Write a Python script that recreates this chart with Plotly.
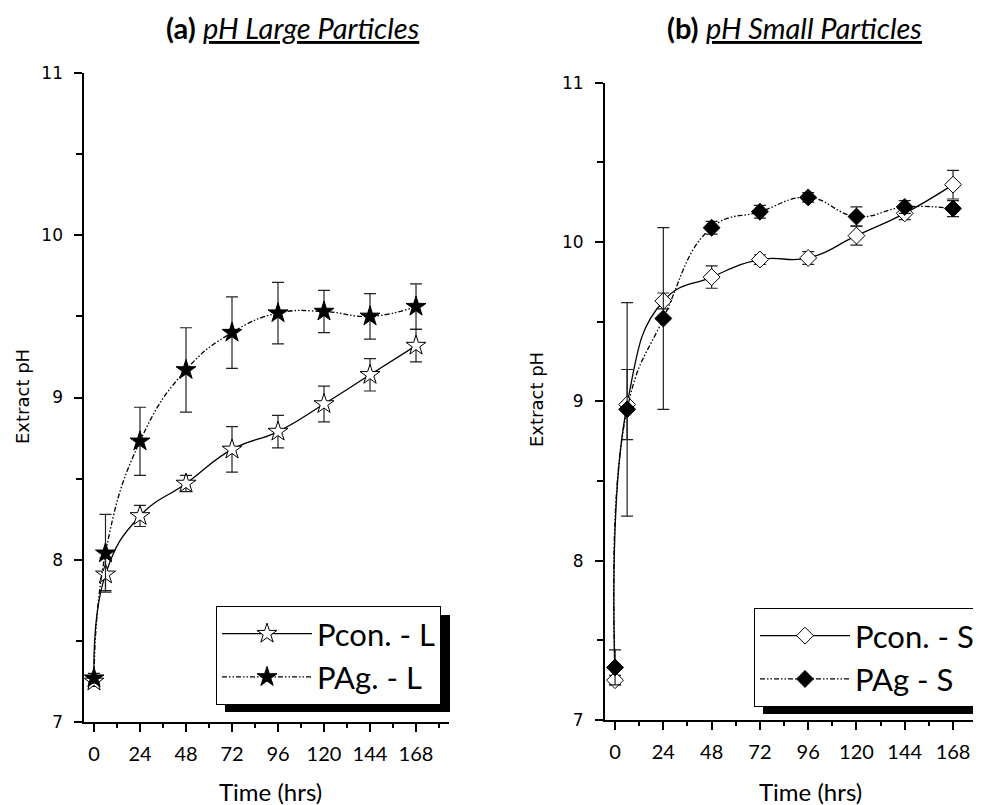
import plotly.graph_objects as go

# ---------------- data ----------------
hours = [0, 6, 24, 48, 72, 96, 120, 144, 168]

pcon_L = [7.25, 7.91, 8.27, 8.47, 8.68, 8.79, 8.96, 9.14, 9.32]
pcon_L_err = [0.03, 0.10, 0.065, 0.05, 0.14, 0.10, 0.11, 0.10, 0.10]
pag_L = [7.27, 8.04, 8.73, 9.17, 9.40, 9.52, 9.53, 9.50, 9.56]
pag_L_err = [0.03, 0.24, 0.21, 0.26, 0.22, 0.19, 0.13, 0.14, 0.14]

pcon_S = [7.25, 8.98, 9.63, 9.78, 9.89, 9.90, 10.04, 10.18, 10.36]
pcon_S_err = [0.03, 0.22, 0.05, 0.07, 0.03, 0.04, 0.06, 0.04, 0.09]
pag_S = [7.33, 8.95, 9.52, 10.09, 10.19, 10.28, 10.16, 10.22, 10.21]
pag_S_err = [0.11, 0.67, 0.57, 0.04, 0.04, 0.03, 0.06, 0.04, 0.05]

x_ticks = [0, 24, 48, 72, 96, 120, 144, 168]
y_ticks = [7, 8, 9, 10, 11]

names = ["Pcon. - L", "PAg. - L", "Pcon. - S", "PAg - S"]

# page body has an 8px margin; the figure is sized to fill the rest
OFF = 8
W, H = 981 - OFF, 805 - OFF
def px(x):
    return (x - OFF) / W
def py(y):
    return 1 - (y - OFF) / H

DASH = "5px,2px,1.5px,2px,1.5px,2px"
SANS = "Lato, 'Open Sans', sans-serif"
DEJ = "'DejaVu Sans', sans-serif"

fig = go.Figure()

def add(xref, yref, y, err, name, symbol, fill, dash, legend, size, group):
    fig.add_trace(go.Scatter(
        x=hours, y=y, name=name, mode="lines+markers",
        xaxis=xref, yaxis=yref, legend=legend, legendgroup=group,
        line=dict(color="black", width=1.3, shape="spline", smoothing=1.3, dash=dash),
        marker=dict(symbol=symbol, size=size, color=fill,
                    line=dict(color="black", width=1)),
        error_y=dict(type="data", array=err, visible=True,
                     color="#222222", thickness=1.2, width=6),
    ))

add("x", "y", pcon_L, pcon_L_err, names[0], "star", "white", "solid", "legend", 15, "a1")
add("x", "y", pag_L, pag_L_err, names[1], "star", "black", DASH, "legend", 15, "a2")
add("x2", "y2", pcon_S, pcon_S_err, names[2], "diamond", "white", "solid", "legend2", 13, "b1")
add("x2", "y2", pag_S, pag_S_err, names[3], "diamond", "black", DASH, "legend2", 13, "b2")

def xaxis(domain, rng, anchor):
    return dict(domain=domain, range=rng, anchor=anchor,
                showline=True, linecolor="black", linewidth=2,
                showgrid=False, zeroline=False,
                tickmode="array", tickvals=x_ticks,
                ticktext=[str(v) for v in x_ticks],
                ticks="outside", ticklen=8, tickwidth=1.5, tickcolor="black",
                ticklabelstandoff=5,
                tickfont=dict(family=SANS, size=20, color="black"),
                minor=dict(ticks="outside", ticklen=4, tickwidth=1.5,
                           tickcolor="black", dtick=12, tick0=0))

def yaxis(domain, anchor):
    return dict(domain=domain, range=[7, 11], anchor=anchor,
                showline=True, linecolor="black", linewidth=2,
                showgrid=False, zeroline=False,
                tickmode="array", tickvals=y_ticks,
                ticktext=[str(v) for v in y_ticks],
                ticks="outside", ticklen=8, tickwidth=1.5, tickcolor="black",
                ticklabelstandoff=8,
                tickfont=dict(family=DEJ, size=17, color="black"),
                minor=dict(ticks="outside", ticklen=6, tickwidth=1.5,
                           tickcolor="black", dtick=0.5, tick0=7))

legend_common = dict(xanchor="left", yanchor="top",
                     bgcolor="white", bordercolor="black", borderwidth=1,
                     font=dict(family=SANS, size=31, color="black"),
                     itemwidth=90, tracegroupgap=0, traceorder="grouped")

fig.update_layout(
    width=W, height=H,
    margin=dict(l=0, r=0, t=0, b=0, autoexpand=False),
    paper_bgcolor="white", plot_bgcolor="white",
    xaxis=xaxis([px(84.4), px(448.6)], [-5, 185], "y"),
    yaxis=yaxis([py(722), py(73)], "x"),
    xaxis2=xaxis([px(605), 1.0], [-5, 181.9], "y2"),
    yaxis2=yaxis([py(720), py(82.7)], "x2"),
    legend=dict(x=px(216), y=py(606), **legend_common),
    legend2=dict(x=px(754), y=py(608), **legend_common),
    showlegend=True,
)

# legend drop shadows (offset ~9px right/down from the legend boxes)
fig.add_shape(type="rect", xref="paper", yref="paper",
              x0=px(225), x1=px(450), y0=py(712), y1=py(615),
              fillcolor="black", line=dict(width=0), layer="above")
fig.add_shape(type="rect", xref="paper", yref="paper",
              x0=px(763), x1=px(1000), y0=py(714), y1=py(617),
              fillcolor="black", line=dict(width=0), layer="above")

# titles
fig.add_annotation(text="<b>(a)</b> <i><u>pH Large Particles</u></i>",
                   xref="paper", yref="paper", x=px(292), y=1.0,
                   xanchor="center", yanchor="top",
                   showarrow=False, font=dict(family=SANS, size=29, color="black"))
fig.add_annotation(text="<b>(b)</b> <i><u>pH Small Particles</u></i>",
                   xref="paper", yref="paper", x=px(794), y=1.0,
                   xanchor="center", yanchor="top",
                   showarrow=False, font=dict(family=SANS, size=29, color="black"))

# axis titles
for xc, yc in [(22, 397), (537, 400)]:
    fig.add_annotation(text="Extract pH", textangle=-90,
                       xref="paper", yref="paper", x=px(xc), y=py(yc),
                       xanchor="center", yanchor="middle", showarrow=False,
                       font=dict(family=DEJ, size=18, color="black"))
for xc in [270, 810]:
    fig.add_annotation(text="Time (hrs)", xref="paper", yref="paper",
                       x=px(xc), y=py(791), xanchor="center", yanchor="middle",
                       showarrow=False,
                       font=dict(family=SANS, size=24, color="black"))

fig.write_html("out.html")
